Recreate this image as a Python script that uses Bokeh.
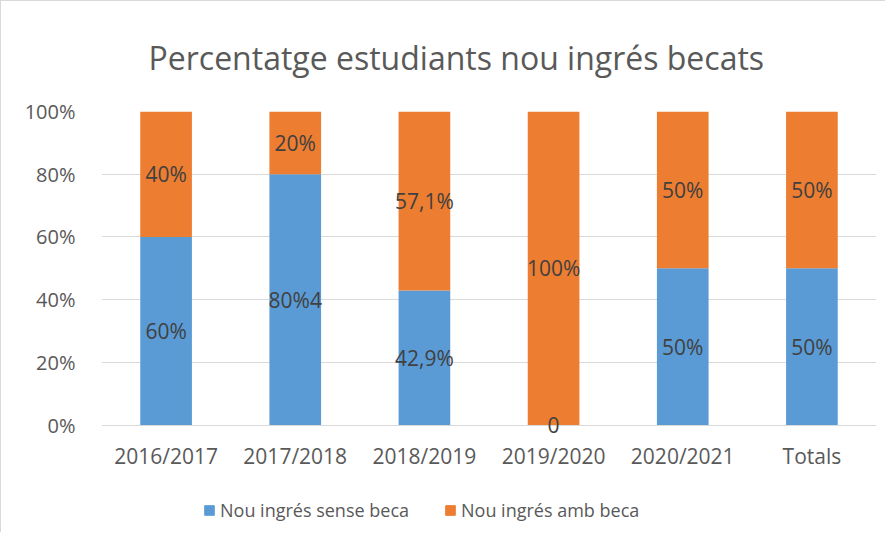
from bokeh.plotting import figure
from bokeh.layouts import column
from bokeh.models import (FactorRange, Range1d, FixedTicker, NumeralTickFormatter,
                          ColumnDataSource, LabelSet, Title, Legend, LegendItem)
from bokeh.embed import file_html
from bokeh.resources import INLINE
from bokeh.core.properties import value

categories = ["2016/2017", "2017/2018", "2018/2019", "2019/2020", "2020/2021", "Totals"]
sense_beca = [0.60, 0.80, 0.429, 0.0, 0.50, 0.50]
amb_beca = [0.40, 0.20, 0.571, 1.0, 0.50, 0.50]
sense_labels = ["60%", "80%4", "42,9%", "0", "50%", "50%"]
amb_labels = ["40%", "20%", "57,1%", "100%", "50%", "50%"]
series_names = ["Nou ingrés sense beca", "Nou ingrés amb beca"]
title_text = "Percentatge estudiants nou ingrés becats"
y_ticks = [0, 0.2, 0.4, 0.6, 0.8, 1.0]

BLUE = "#5B9BD5"
ORANGE = "#ED7D31"
FONT = "Open Sans"
BORDER = "1px solid #D9D9D9"

p = figure(x_range=FactorRange(*categories), y_range=Range1d(-0.03, 1),
           width=885, height=480, output_backend="svg", toolbar_location=None,
           min_border_left=100, min_border_right=10, min_border_top=110, min_border_bottom=47)
p.styles = {"border-left": BORDER, "border-top": BORDER}
p.outline_line_color = None
p.background_fill_color = "white"
p.border_fill_color = "white"

src = ColumnDataSource(dict(x=categories, sense=sense_beca, amb=amb_beca))
rs = p.vbar_stack(["sense", "amb"], x="x", width=0.4, source=src,
                  color=[BLUE, ORANGE], line_color=None)

# labels positioned at segment centres
lab_src = ColumnDataSource(dict(
    x=categories + categories,
    y=[v / 2 for v in sense_beca] + [s + a / 2 for s, a in zip(sense_beca, amb_beca)],
    t=sense_labels + amb_labels,
))
p.add_layout(LabelSet(x="x", y="y", text="t", source=lab_src, text_align="center",
                      text_baseline="middle", text_font=value(FONT),
                      text_font_size="21px", text_color="#404040"))

p.add_layout(Title(text=title_text, align="left", text_font=FONT,
                   text_font_size="32px", text_font_style="normal",
                   text_color="#595959", standoff=65, offset=47), "above")

p.xgrid.grid_line_color = None
p.ygrid.grid_line_color = "#D9D9D9"
p.ygrid.grid_line_width = 1

p.yaxis.ticker = FixedTicker(ticks=y_ticks)
p.yaxis.formatter = NumeralTickFormatter(format="0%")
for ax in (p.xaxis[0], p.yaxis[0]):
    ax.axis_line_color = None
    ax.major_tick_line_color = None
    ax.minor_tick_line_color = None
    ax.major_label_text_font = FONT
    ax.major_label_text_color = "#595959"
p.yaxis.major_label_text_font_size = "20px"
p.xaxis.major_label_text_font_size = "21px"
p.yaxis.major_label_standoff = 20
p.xaxis.major_label_standoff = 1

# legend strip below the chart
q = figure(width=885, height=52, output_backend="svg", toolbar_location=None,
           x_range=Range1d(0, 1), y_range=Range1d(0, 1),
           x_axis_type=None, y_axis_type=None,
           min_border_left=0, min_border_right=0, min_border_top=0, min_border_bottom=0)
q.styles = {"border-left": BORDER}
q.outline_line_color = None
q.xgrid.grid_line_color = None
q.ygrid.grid_line_color = None
leg_src = ColumnDataSource(dict(x=[-5.0], y=[-5.0]))
r0 = q.rect(x="x", y="y", width=0.1, height=0.1, source=leg_src, color=BLUE)
r1 = q.rect(x="x", y="y", width=0.1, height=0.1, source=leg_src, color=ORANGE)

legend = Legend(items=[LegendItem(label=series_names[0], renderers=[r0]),
                       LegendItem(label=series_names[1], renderers=[r1])],
                orientation="horizontal", location=(102, 10),
                padding=0, margin=0, spacing=35, label_standoff=5,
                glyph_width=12, glyph_height=12,
                border_line_color=None, background_fill_alpha=0,
                label_text_font=FONT, label_text_font_size="18px",
                label_text_color="#595959")
q.add_layout(legend, "center")

open("out.html", "w").write(file_html(column(p, q, spacing=0), INLINE))
